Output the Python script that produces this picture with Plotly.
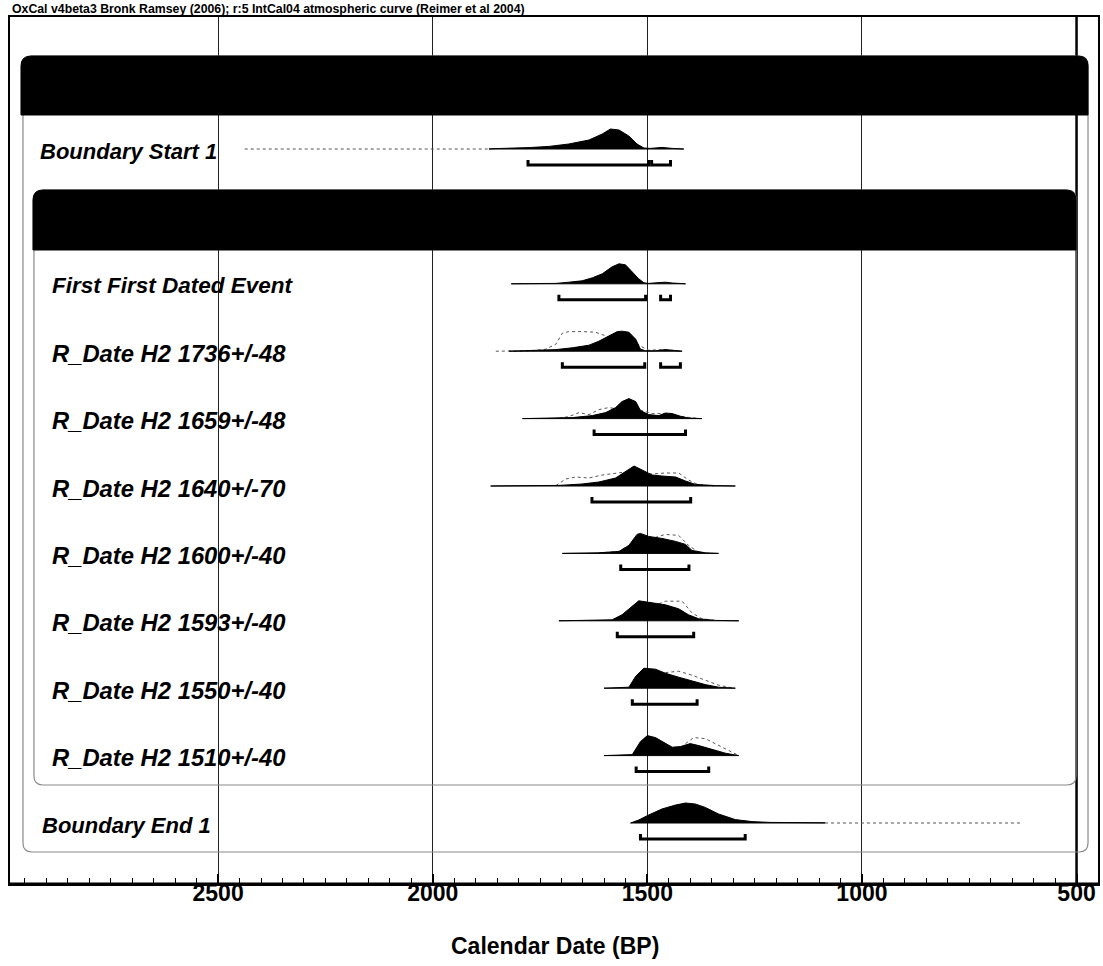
import plotly.graph_objects as go

# ------------------------------------------------------------------ data
title_text = "OxCal v4beta3 Bronk Ramsey (2006); r:5 IntCal04 atmospheric curve (Reimer et al 2004)"
axis_title = "Calendar Date (BP)"
tick_values = [2500, 2000, 1500, 1000, 500]
tick_labels = ["2500", "2000", "1500", "1000", "500"]

labels = ["Boundary Start 1", "First First Dated Event", "R_Date H2 1736+/-48",
          "R_Date H2 1659+/-48", "R_Date H2 1640+/-70", "R_Date H2 1600+/-40",
          "R_Date H2 1593+/-40", "R_Date H2 1550+/-40", "R_Date H2 1510+/-40",
          "Boundary End 1"]

# posterior (filled) distributions: calendar years BP and relative probability
start_years = [1869, 1853, 1776, 1729, 1683, 1636, 1605, 1586, 1566, 1543, 1524, 1508, 1493, 1466, 1442, 1415]
start_post = [0, 0.02, 0.07, 0.13, 0.25, 0.45, 0.75, 1.0, 0.95, 0.65, 0.25, 0.05, 0.03, 0.08, 0.03, 0]
start_tail = [2438, 1869]

first_years = [1817, 1713, 1683, 1652, 1628, 1605, 1582, 1566, 1551, 1535, 1520, 1508, 1497, 1473, 1458, 1442, 1411]
first_post = [0, 0.02, 0.08, 0.15, 0.3, 0.5, 0.85, 1.0, 0.95, 0.6, 0.25, 0.05, 0.02, 0.06, 0.08, 0.04, 0]

d1736_years = [1822, 1768, 1713, 1675, 1636, 1613, 1590, 1570, 1559, 1543, 1527, 1516, 1504, 1481, 1458, 1434, 1419]
d1736_post = [0, 0.04, 0.08, 0.17, 0.3, 0.5, 0.75, 0.98, 1.0, 0.95, 0.6, 0.1, 0.02, 0.02, 0.08, 0.05, 0]
d1736_lik_years = [1853, 1768, 1737, 1713, 1698, 1683, 1652, 1621, 1601, 1590, 1566, 1520, 1497, 1462, 1419]
d1736_lik = [0, 0.02, 0.1, 0.35, 0.9, 0.98, 0.98, 0.95, 0.8, 0.72, 0.65, 0.3, 0.05, 0.08, 0]

d1659_years = [1791, 1729, 1675, 1628, 1597, 1574, 1559, 1543, 1527, 1516, 1497, 1473, 1458, 1442, 1423, 1404, 1373]
d1659_post = [0, 0.02, 0.05, 0.15, 0.3, 0.55, 0.85, 1.0, 0.85, 0.4, 0.2, 0.15, 0.28, 0.25, 0.12, 0.03, 0]
d1659_lik_years = [1706, 1683, 1659, 1636, 1613, 1590, 1574, 1543, 1520, 1489, 1458, 1419, 1380]
d1659_lik = [0.02, 0.1, 0.3, 0.2, 0.45, 0.55, 0.5, 0.55, 0.45, 0.25, 0.25, 0.1, 0]

d1640_years = [1865, 1768, 1706, 1652, 1613, 1574, 1551, 1531, 1512, 1489, 1466, 1434, 1411, 1388, 1341, 1295]
d1640_post = [0, 0.01, 0.03, 0.1, 0.2, 0.4, 0.7, 1.0, 0.8, 0.55, 0.5, 0.45, 0.25, 0.08, 0.02, 0]
d1640_lik_years = [1713, 1690, 1667, 1636, 1605, 1574, 1551, 1520, 1489, 1458, 1427, 1404, 1380, 1341]
d1640_lik = [0.02, 0.35, 0.45, 0.4, 0.55, 0.65, 0.7, 0.65, 0.6, 0.65, 0.65, 0.3, 0.05, 0]

d1600_years = [1698, 1613, 1566, 1543, 1524, 1516, 1497, 1466, 1434, 1411, 1396, 1365, 1334]
d1600_post = [0, 0.03, 0.1, 0.4, 0.95, 1.0, 0.85, 0.75, 0.6, 0.45, 0.15, 0.03, 0]
d1600_lik_years = [1613, 1566, 1535, 1516, 1481, 1458, 1427, 1404, 1380]
d1600_lik = [0.02, 0.1, 0.5, 0.75, 0.8, 0.95, 0.9, 0.4, 0.05]

d1593_years = [1706, 1644, 1613, 1582, 1559, 1535, 1520, 1489, 1458, 1427, 1404, 1380, 1341, 1287]
d1593_post = [0, 0.02, 0.05, 0.05, 0.3, 0.75, 1.0, 0.9, 0.8, 0.6, 0.3, 0.1, 0.02, 0]
d1593_lik_years = [1473, 1458, 1419, 1396, 1373, 1341]
d1593_lik = [0.85, 0.98, 0.98, 0.4, 0.1, 0.02]

d1550_years = [1601, 1543, 1527, 1508, 1481, 1458, 1427, 1396, 1365, 1334, 1295]
d1550_post = [0, 0.05, 0.6, 1.0, 0.95, 0.75, 0.55, 0.35, 0.18, 0.05, 0]
d1550_lik_years = [1458, 1427, 1396, 1365, 1334, 1303]
d1550_lik = [0.78, 0.85, 0.65, 0.4, 0.15, 0.02]

d1510_years = [1601, 1535, 1516, 1500, 1481, 1466, 1442, 1423, 1400, 1380, 1349, 1318, 1287]
d1510_post = [0, 0.05, 0.7, 1.0, 0.9, 0.7, 0.42, 0.45, 0.6, 0.5, 0.3, 0.12, 0]
d1510_lik_years = [1411, 1392, 1365, 1334, 1303, 1287]
d1510_lik = [0.6, 0.9, 0.85, 0.5, 0.15, 0]

end_years = [1539, 1520, 1497, 1466, 1434, 1411, 1388, 1365, 1334, 1295, 1256, 1214, 1086]
end_post = [0, 0.15, 0.4, 0.7, 0.9, 1.0, 0.95, 0.78, 0.45, 0.17, 0.07, 0.03, 0.01]
end_tail = [1086, 629]

# highest posterior density ranges (from, to) in years BP
start_ranges = [(1778, 1497), (1490, 1446)]
first_ranges = [(1706, 1504), (1469, 1446)]
d1736_ranges = [(1698, 1506), (1469, 1423)]
d1659_ranges = [(1624, 1411)]
d1640_ranges = [(1629, 1399)]
d1600_ranges = [(1562, 1403)]
d1593_ranges = [(1570, 1392)]
d1550_ranges = [(1535, 1384)]
d1510_ranges = [(1526, 1357)]
end_ranges = [(1516, 1272)]

posteriors = [(start_years, start_post), (first_years, first_post), (d1736_years, d1736_post),
              (d1659_years, d1659_post), (d1640_years, d1640_post), (d1600_years, d1600_post),
              (d1593_years, d1593_post), (d1550_years, d1550_post), (d1510_years, d1510_post),
              (end_years, end_post)]
likelihoods = [None, None, (d1736_lik_years, d1736_lik), (d1659_lik_years, d1659_lik),
               (d1640_lik_years, d1640_lik), (d1600_lik_years, d1600_lik),
               (d1593_lik_years, d1593_lik), (d1550_lik_years, d1550_lik),
               (d1510_lik_years, d1510_lik), None]
ranges = [start_ranges, first_ranges, d1736_ranges, d1659_ranges, d1640_ranges, d1600_ranges,
          d1593_ranges, d1550_ranges, d1510_ranges, end_ranges]
tails = [start_tail] + [None] * 8 + [end_tail]

# ------------------------------------------------------------------ layout geometry
W, H = 1103, 966
PX_L, PX_R, PX_T, PX_B = 10, 1100, 17, 884
ROW0_PX, ROW_PX = 149, 67.4
YEAR_PX, REF_YEAR, REF_PX = 0.43, 1500, 648.5


def px2year(px):
    return REF_YEAR + (REF_PX - px) / YEAR_PX


def px2row(py):
    return (py - ROW0_PX) / ROW_PX


def px2paper_x(px):
    return (px - PX_L) / (PX_R - PX_L)


def px2paper_y(py):
    return (PX_B - py) / (PX_B - PX_T)


PEAK = 20 / ROW_PX
BAR_OFF = 16 / ROW_PX
BAR_TIP = 5 / ROW_PX
LABEL_DY = 2 / ROW_PX
row_of_item = [0, 2, 3, 4, 5, 6, 7, 8, 9, 10]
label_px = [38, 50, 50, 50, 50, 50, 50, 50, 50, 40]
label_size = [22, 22.5, 23.8, 23.8, 23.8, 23.8, 23.8, 23.8, 23.8, 22]

fig = go.Figure()

for i, (yrs, pr) in enumerate(posteriors):
    r = row_of_item[i]
    if tails[i]:
        fig.add_trace(go.Scatter(x=tails[i], y=[r, r], mode="lines",
                                 line=dict(color="#555", width=1.2, dash="dot"), hoverinfo="skip"))
    if likelihoods[i]:
        ly, lp = likelihoods[i]
        fig.add_trace(go.Scatter(x=ly, y=[r - p * PEAK for p in lp], mode="lines",
                                 line=dict(color="#555", width=1, dash="dot"), hoverinfo="skip"))
    xs = list(yrs) + [yrs[-1], yrs[0]]
    ys = [r - p * PEAK for p in pr] + [r, r]
    fig.add_trace(go.Scatter(x=xs, y=ys, mode="lines", fill="toself", fillcolor="black",
                             line=dict(color="black", width=1), hoverinfo="skip"))
    for a, b in ranges[i]:
        yb = r + BAR_OFF
        fig.add_trace(go.Scatter(x=[a, a, b, b], y=[yb - BAR_TIP, yb, yb, yb - BAR_TIP], mode="lines",
                                 line=dict(color="black", width=3), hoverinfo="skip"))


def rounded_path(x0, x1, y0, y1, rad, top=True, bottom=True):
    def X(p): return px2year(p)
    def Y(p): return px2row(p)
    s = ""
    if top:
        s += f"M {X(x0)},{Y(y0 + rad)} Q {X(x0)},{Y(y0)} {X(x0 + rad)},{Y(y0)} "
        s += f"L {X(x1 - rad)},{Y(y0)} Q {X(x1)},{Y(y0)} {X(x1)},{Y(y0 + rad)} "
    else:
        s += f"M {X(x0)},{Y(y0)} L {X(x1)},{Y(y0)} "
    if bottom:
        s += f"L {X(x1)},{Y(y1 - rad)} Q {X(x1)},{Y(y1)} {X(x1 - rad)},{Y(y1)} "
        s += f"L {X(x0 + rad)},{Y(y1)} Q {X(x0)},{Y(y1)} {X(x0)},{Y(y1 - rad)} Z"
    else:
        s += f"L {X(x1)},{Y(y1)} L {X(x0)},{Y(y1)} Z"
    return s


shapes = []
# heavier 500 gridline
shapes.append(dict(type="line", x0=500, x1=500, yref="paper", y0=0, y1=1,
                   line=dict(color="black", width=2.5), layer="above"))
# outer (sequence) box and inner (phase) box outlines
shapes.append(dict(type="path", path=rounded_path(23, 1090, 56, 852, 9), line=dict(color="#8a8a8a", width=1.2),
                   layer="above"))
shapes.append(dict(type="path", path=rounded_path(34, 1078, 190, 785, 9), line=dict(color="#8a8a8a", width=1.2),
                   layer="above"))
# black headers
shapes.append(dict(type="path", path=rounded_path(21, 1090, 56, 115, 10, bottom=False), fillcolor="black",
                   line=dict(color="black", width=1), layer="above"))
shapes.append(dict(type="path", path=rounded_path(33, 1078, 190, 250, 10, bottom=False), fillcolor="black",
                   line=dict(color="black", width=1), layer="above"))
# heavier bottom axis line
shapes.append(dict(type="line", xref="paper", yref="paper", x0=0, x1=1, y0=0, y1=0,
                   line=dict(color="black", width=3), layer="above"))

annotations = []
for i, lab in enumerate(labels):
    annotations.append(dict(text=lab, x=px2paper_x(label_px[i]), xref="paper",
                            y=row_of_item[i] + LABEL_DY, yref="y",
                            xanchor="left", yanchor="middle", showarrow=False,
                            font=dict(family="Liberation Sans, Arial, sans-serif", size=label_size[i],
                                      color="black", weight="bold", style="italic")))
annotations.append(dict(text=title_text, x=0, xref="paper", y=px2paper_y(9), yref="paper",
                        xanchor="left", yanchor="middle", showarrow=False,
                        font=dict(family="Liberation Sans, Arial, sans-serif", size=12.3, color="black",
                                  weight="bold")))
annotations.append(dict(text=axis_title, x=px2paper_x(556), xref="paper", y=px2paper_y(946), yref="paper",
                        xanchor="center", yanchor="middle", showarrow=False,
                        font=dict(family="Liberation Sans, Arial, sans-serif",
                                  size=23, color="black", weight="bold")))

fig.update_layout(
    width=W, height=H,
    margin=dict(l=PX_L, r=W - PX_R, t=PX_T, b=H - PX_B),
    paper_bgcolor="white", plot_bgcolor="white",
    showlegend=False,
    shapes=shapes, annotations=annotations,
    xaxis=dict(range=[px2year(PX_L), px2year(PX_R)], tickmode="array", tickvals=tick_values,
               ticktext=tick_labels, ticks="inside", ticklen=10, tickwidth=2, tickcolor="black",
               minor=dict(dtick=50, tick0=0, ticks="inside", ticklen=6, tickwidth=1, tickcolor="black"),
               showgrid=True, gridcolor="#222", gridwidth=1, zeroline=False,
               showline=True, linecolor="black", linewidth=2, mirror=True,
               tickfont=dict(family="Liberation Sans, Arial, sans-serif",
                             size=23, color="black", weight="bold"),
               ticklabelstandoff=-13,
               fixedrange=True),
    yaxis=dict(range=[px2row(PX_B), px2row(PX_T)], showticklabels=False, ticks="", showgrid=False,
               zeroline=False, showline=True, linecolor="black", linewidth=2, mirror=True, fixedrange=True),
)

fig.write_html("out.html", config={"displayModeBar": False},
               post_script="document.body.style.margin='0';document.body.style.overflow='hidden';")
